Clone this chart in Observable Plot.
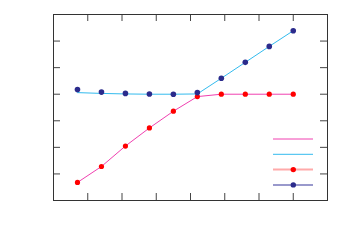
<!DOCTYPE html>
<html><head><meta charset="utf-8">
<script src="https://cdn.jsdelivr.net/npm/d3@7"></script>
<script src="https://cdn.jsdelivr.net/npm/@observablehq/plot@0.6"></script>
<style>body{margin:0;background:#fff}</style>
</head><body><div id="chart"></div>
<script>
const xs = [0.7, 1.4, 2.1, 2.8, 3.5, 4.2, 4.9, 5.6, 6.3, 7.0];
const redVals = [0.68, 1.28, 2.05, 2.73, 3.36, 3.91, 4.0, 4.0, 4.0, 4.0];
const blueVals = [4.18, 4.08, 4.03, 4.01, 4.0, 4.06, 4.6, 5.2, 5.8, 6.39];
const cyanVals = [4.06, 4.03, 4.01, 4.0, 4.0, 4.01, 4.6, 5.2, 5.8, 6.39];
const xTicks = [1, 2, 3, 4, 5, 6, 7];
const yTicks = [1, 2, 3, 4, 5, 6];
const legendItems = [
  {line: "#f040b0", width: 1, dot: null},
  {line: "#33bbee", width: 1, dot: null},
  {line: "#ffaaaa", width: 2, dot: "#ff0000"},
  {line: "#9999cc", width: 2, dot: "#2b2b8c"}
];

const red = xs.map((x, i) => ({x, y: redVals[i]}));
const blue = xs.map((x, i) => ({x, y: blueVals[i]}));
const cyan = xs.map((x, i) => ({x, y: cyanVals[i]}));

const W = 349, H = 247, mt = 14, mb = 47, ml = 53, mr = 22;
const ih = H - mt - mb, iw = W - ml - mr, tl = 7;

function legend(index, scales, values, dims) {
  const g = d3.create("svg:g");
  const x2 = dims.width - dims.marginRight - 14;
  const x1 = x2 - 40;
  const yb = dims.height - dims.marginBottom;
  legendItems.forEach((d, i) => {
    const y = yb - 61 + i * 15.3;
    g.append("line").attr("x1", x1).attr("x2", x2).attr("y1", y).attr("y2", y)
      .attr("stroke", d.line).attr("stroke-width", d.width);
    if (d.dot) g.append("circle").attr("cx", (x1 + x2) / 2 + 0.3).attr("cy", y).attr("r", 2.7).attr("fill", d.dot);
  });
  return g.node();
}

const chart = Plot.plot({
  width: W, height: H,
  marginTop: mt, marginBottom: mb, marginLeft: ml, marginRight: mr,
  x: {domain: [0, 8], axis: null},
  y: {domain: [0, 7], axis: null},
  style: {background: "#fff"},
  marks: [
    Plot.tickX(xTicks, {x: d => d, stroke: "#444", insetTop: ih - tl}),
    Plot.tickX(xTicks, {x: d => d, stroke: "#444", insetBottom: ih - tl}),
    Plot.tickY(yTicks, {y: d => d, stroke: "#444", insetRight: iw - tl}),
    Plot.tickY(yTicks, {y: d => d, stroke: "#444", insetLeft: iw - tl}),
    Plot.line(red, {x: "x", y: "y", stroke: "#f040b0", strokeWidth: 1}),
    Plot.line(cyan, {x: "x", y: "y", stroke: "#33bbee", strokeWidth: 1}),
    Plot.dot(red, {x: "x", y: "y", r: 2.6, fill: "#ff0000"}),
    Plot.dot(blue, {x: "x", y: "y", r: 2.8, fill: "#2b2b8c"}),
    legend,
    Plot.frame({stroke: "#333"})
  ]
});
document.getElementById("chart").append(chart);
</script></body></html>
